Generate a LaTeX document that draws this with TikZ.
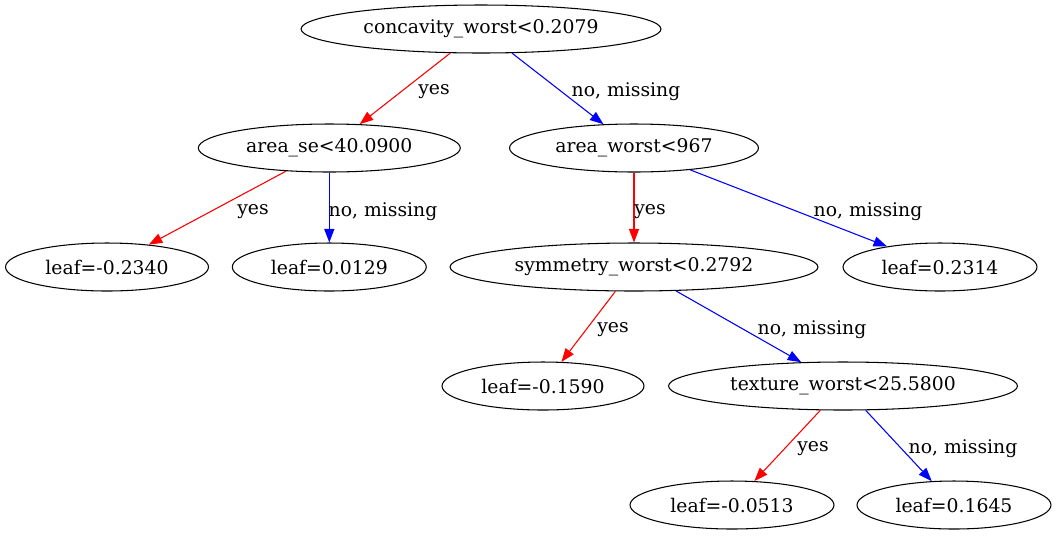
\documentclass[tikz,border=0pt]{standalone}
\usepackage{fontspec}
\setmainfont{DejaVu Serif}
\usetikzlibrary{shapes.geometric,arrows.meta}

\begin{document}
\begin{tikzpicture}[
    x=0.02cm, y=-0.02cm,
    split/.style={ellipse, draw, line width=0.6pt, inner sep=0pt, minimum height=0.96cm, font=\fontsize{10.7}{12}\selectfont},
    yesedge/.style={-{Triangle[length=0.27cm,width=0.2cm]}, draw=red, line width=0.6pt, fill=red},
    noedge/.style={-{Triangle[length=0.27cm,width=0.2cm]}, draw=blue, line width=0.6pt, fill=blue},
    lbl/.style={font=\fontsize{10.7}{12}\selectfont, inner sep=0pt}
]
\useasboundingbox (0,0) rectangle (1057,535);

% Split nodes
\node[split, minimum width=7.2cm] (root) at (481,29) {concavity\_worst<0.2079};
\node[split, minimum width=5.24cm] (areaSe) at (329.3,148) {area\_se<40.0900};
\node[split, minimum width=4.98cm] (areaWorst) at (634,148) {area\_worst<967};
\node[split, minimum width=7.36cm] (symmetry) at (634,267) {symmetry\_worst<0.2792};
\node[split, minimum width=6.98cm] (texture) at (843,386) {texture\_worst<25.5800};

% Leaves
\node[split, minimum width=4.06cm] (leafA) at (107,267) {leaf=-0.2340};
\node[split, minimum width=3.88cm] (leafB) at (329.3,267) {leaf=0.0129};
\node[split, minimum width=3.88cm] (leafC) at (940,267) {leaf=0.2314};
\node[split, minimum width=4.04cm] (leafD) at (543,386) {leaf=-0.1590};
\node[split, minimum width=4.08cm] (leafE) at (732,505) {leaf=-0.0513};
\node[split, minimum width=3.88cm] (leafF) at (954,505) {leaf=0.1645};

% Edges
\draw[yesedge] (root) -- (areaSe);
\draw[noedge] (root) -- (areaWorst);
\draw[yesedge] (areaSe) -- (leafA);
\draw[noedge] (areaSe) -- (leafB);
\draw[yesedge] (areaWorst) -- (symmetry);
\draw[noedge] (areaWorst) -- (leafC);
\draw[yesedge] (symmetry) -- (leafD);
\draw[noedge] (symmetry) -- (texture);
\draw[yesedge] (texture) -- (leafE);
\draw[noedge] (texture) -- (leafF);

% Edge labels
\node[lbl] (l1) at (434,91.5) {yes};
\node[lbl] (l2) at (626,91.5) {no, missing};
\node[lbl] (l3) at (253,211.5) {yes};
\node[lbl] (l4) at (383,211.5) {no, missing};
\node[lbl] (l5) at (650,211.5) {yes};
\node[lbl] (l6) at (868,211.5) {no, missing};
\node[lbl] (l7) at (613,329.5) {yes};
\node[lbl] (l8) at (812,329.5) {no, missing};
\node[lbl] (l9) at (813,448.5) {yes};
\node[lbl] (l10) at (963,448.5) {no, missing};

\end{tikzpicture}
\end{document}
